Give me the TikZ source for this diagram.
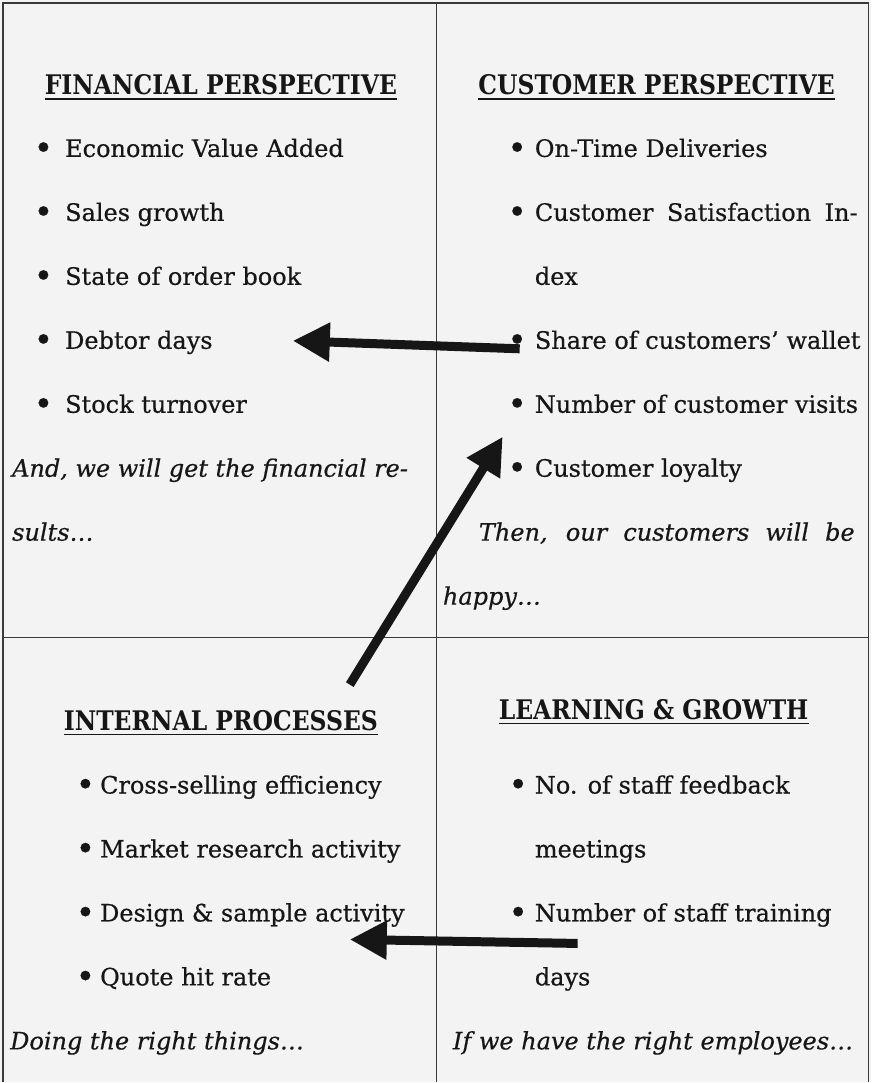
\documentclass[tikz,border=0pt]{standalone}
\usepackage{fontspec}
\setmainfont{DejaVu Serif}[FakeBold=0.5]
\newfontfamily\headfont[FakeStretch=0.87]{DejaVu Serif}
\usetikzlibrary{arrows.meta}

\definecolor{paper}{HTML}{F3F3F3}
\definecolor{ink}{HTML}{161616}

% bullet hung in front of an item, #1 = gap to the text
\newcommand\bul[1]{\llap{\raisebox{-2.4pt}{\fontsize{33}{33}\selectfont\textbullet}\hspace{#1}}}

\begin{document}
\begin{tikzpicture}[x=1pt,y=-1pt,
  head/.style={anchor=base,inner sep=0pt,text=ink,font=\headfont\bfseries\fontsize{27}{32}\selectfont},
  txt/.style={anchor=base west,inner sep=0pt,text=ink,font=\fontsize{24}{29}\selectfont},
  note/.style={txt,font=\itshape\fontsize{24}{29}\selectfont},
  rule/.style={line width=1.3pt,draw=ink!85},
  uline/.style={line width=1.8pt,draw=ink},
  flow/.style={line width=9pt,draw=ink,-{Triangle[length=37pt,width=37pt]}}]
\fill[paper] (0,0) rectangle (872,1083);

% frame and quadrants
\draw[rule] (3,1083) -- (3,3) -- (869,3) -- (869,1083);
\draw[rule] (437,3) -- (437,1083);
\draw[rule] (3,638) -- (869,638);

% headings
\node[head] (fin) at (221,95) {FINANCIAL PERSPECTIVE};
\node[head] (cust) at (657,95) {CUSTOMER PERSPECTIVE};
\node[head] (proc) at (221,731) {INTERNAL PROCESSES};
\node[head] (learn) at (654,720) {LEARNING \& GROWTH};
\foreach \h in {fin,cust,proc,learn}
  \draw[uline] ([yshift=-4pt]\h.base west) -- ([yshift=-4pt]\h.base east);

% financial
\node[txt] (eva) at (65,157) {\bul{12pt}Economic Value Added};
\node[txt] (sales) at (65,221) {\bul{12pt}Sales growth};
\node[txt] (order) at (65,285) {\bul{12pt}State of order book};
\node[txt] (debtor) at (65,349) {\bul{12pt}Debtor days};
\node[txt] (stock) at (65,413) {\bul{12pt}Stock turnover};
\node[note] (finA) at (12,477) {\makebox[396pt][s]{And, we will get the financial re-}};
\node[note] (finB) at (12,541) {sults\ldots};

% customer
\node[txt] (ontime) at (535,157) {\bul{8pt}On-Time Deliveries};
\node[txt] (satis) at (535,221) {\bul{8pt}\makebox[323pt][s]{Customer Satisfaction In-}};
\node[txt] (satisB) at (535,285) {dex};
\node[txt] (wallet) at (535,349) {\bul{8pt}Share of customers' wallet};
\node[txt] (visits) at (535,413) {\bul{8pt}Number of customer visits};
\node[txt] (loyal) at (535,477) {\bul{8pt}Customer loyalty};
\node[note] (custA) at (479,541) {\makebox[376pt][s]{Then, our customers will be}};
\node[note] (custB) at (443,605) {happy\ldots};

% internal processes
\node[txt] (cross) at (100,794) {\bul{5pt}Cross-selling efficiency};
\node[txt] (market) at (100,858) {\bul{5pt}Market research activity};
\node[txt] (design) at (100,922) {\bul{5pt}Design \& sample activity};
\node[txt] (quote) at (100,986) {\bul{5pt}Quote hit rate};
\node[note] (procA) at (10,1050) {Doing the right things\ldots};

% learning and growth
\node[txt] (feedback) at (535,794) {\bul{7pt}No. of staff feedback};
\node[txt] (feedbackB) at (535,858) {meetings};
\node[txt] (training) at (535,922) {\bul{7pt}Number of staff training};
\node[txt] (trainingB) at (535,986) {days};
\node[note] (learnA) at (453,1050) {If we have the right employees\ldots};

% cause and effect arrows
\coordinate (walletTail) at (520,349);
\coordinate (debtorTip) at (293,341);
\coordinate (procTail) at (350,685);
\coordinate (custTip) at (503,437);
\coordinate (trainTail) at (578,944);
\coordinate (designTip) at (350,940);
\draw[flow] (walletTail) -- (debtorTip);
\draw[flow] (procTail) -- (custTip);
\draw[flow] (trainTail) -- (designTip);
\end{tikzpicture}
\end{document}
